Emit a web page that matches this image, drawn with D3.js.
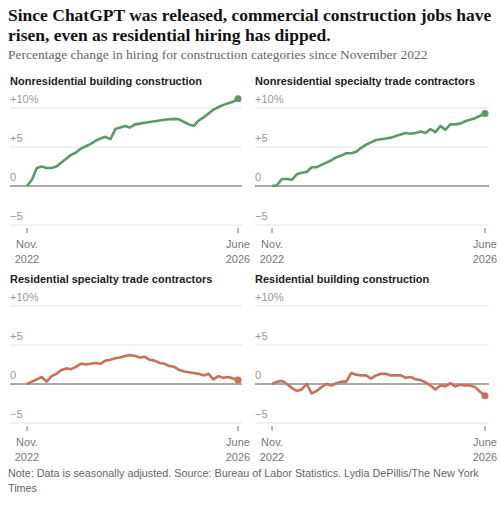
<!DOCTYPE html><html><head><meta charset="utf-8">
<script src="https://cdn.jsdelivr.net/npm/d3@7"></script>
<style>body{margin:0;background:#fff}</style></head><body><svg id="c" width="500" height="509"></svg>
<script>
const titles=["Nonresidential building construction","Nonresidential specialty trade contractors","Residential specialty trade contractors","Residential building construction"];
const nonresBuilding=[0,0.8,2.3,2.5,2.3,2.3,2.5,3,3.5,4,4.3,4.8,5.1,5.4,5.8,6.1,6.3,6.0,7.3,7.5,7.7,7.5,7.9,8.0,8.1,8.2,8.3,8.4,8.5,8.55,8.6,8.55,8.2,7.9,7.7,8.4,8.8,9.3,9.8,10.1,10.4,10.6,10.8,11.2];
const nonresSpecialty=[0,0.1,0.9,0.9,0.8,1.5,1.7,1.8,2.4,2.4,2.7,3.0,3.3,3.7,3.9,4.2,4.2,4.4,4.9,5.3,5.6,5.9,6.0,6.1,6.2,6.4,6.6,6.8,6.7,6.8,7.0,6.8,7.3,6.9,7.7,7.2,7.9,7.9,8.0,8.3,8.5,8.7,9.0,9.3];
const resSpecialty=[0,0.3,0.6,0.9,0.3,1.0,1.3,1.8,2.0,1.9,2.2,2.6,2.5,2.6,2.7,2.6,3.0,3.1,3.3,3.4,3.6,3.7,3.6,3.4,3.5,3.1,3.0,2.7,2.6,2.3,2.2,1.8,1.6,1.5,1.4,1.3,1.1,1.3,0.6,1.0,0.8,0.9,0.7,0.5];
const resBuilding=[0,0.3,0.4,0,-0.5,-0.9,-0.7,0,-1.2,-0.9,-0.4,0,-0.2,0.1,0.3,0.3,1.4,1.2,1.1,1.1,0.7,1.1,1.3,1.3,1.1,1.1,1.1,0.8,0.9,0.6,0.5,0.2,-0.2,-0.7,-0.2,-0.3,0.1,-0.3,-0.1,-0.2,-0.2,-0.4,-1.0,-1.5];
const yTicks=[-5,0,5,10];
const yTickLabels=["\u22125","0","+5","+10%"];
const xLabels=[["Nov.","2022"],["June","2026"]];
const series=[nonresBuilding,nonresSpecialty,resSpecialty,resBuilding];
const colors=["#5a9a68","#5a9a68","#c8705a","#c8705a"];
const svg=d3.select("#c");
svg.append("text").attr("x",8).attr("y",21).attr("font-family","Liberation Serif").attr("font-weight","bold").attr("font-size",17.5).attr("fill","#121212").text("Since ChatGPT was released, commercial construction jobs have");
svg.append("text").attr("x",8).attr("y",41).attr("font-family","Liberation Serif").attr("font-weight","bold").attr("font-size",17.5).attr("fill","#121212").text("risen, even as residential hiring has dipped.");
svg.append("text").attr("x",8).attr("y",59).attr("font-family","Liberation Serif").attr("font-size",13.5).attr("fill","#666").text("Percentage change in hiring for construction categories since November 2022");
const panels=[{x0:10,x1:238,lx:27,top:108},{x0:255,x1:485,lx:272,top:108},{x0:10,x1:238,lx:27,top:306},{x0:255,x1:485,lx:272,top:306}];
panels.forEach((p,i)=>{
  const g=svg.append("g");
  const y=d3.scaleLinear().domain([-5,10]).range([p.top+117,p.top]);
  const x=d3.scaleLinear().domain([0,43]).range([p.lx,p.x1]);
  g.append("text").attr("x",p.x0).attr("y",p.top-23).attr("font-family","Liberation Sans").attr("font-weight","bold").attr("font-size",11).attr("fill","#222").text(titles[i]);
  yTicks.forEach((t,j)=>{
    g.append("line").attr("x1",p.x0).attr("x2",p.x1+4).attr("y1",y(t)).attr("y2",y(t)).attr("stroke",t===0?"#555":"#e4e4e4").attr("stroke-width",1);
    g.append("text").attr("x",p.x0).attr("y",y(t)-5).attr("font-family","Liberation Sans").attr("font-size",11).attr("fill","#999").text(yTickLabels[j]);
  });
  [0,43].forEach((v,k)=>{
    g.append("line").attr("x1",x(v)).attr("x2",x(v)).attr("y1",y(-5)+3).attr("y2",y(-5)+8).attr("stroke","#777");
    xLabels[k].forEach((s,m)=>g.append("text").attr("x",x(v)).attr("y",y(-5)+23+m*15).attr("text-anchor","middle").attr("font-family","Liberation Sans").attr("font-size",11).attr("fill","#777").text(s));
  });
  g.append("path").datum(series[i]).attr("fill","none").attr("stroke",colors[i]).attr("stroke-width",2.6).attr("stroke-linejoin","round")
   .attr("d",d3.line().x((d,k)=>x(k)).y(d=>y(d)));
  const last=series[i].length-1;
  g.append("circle").attr("cx",x(last)).attr("cy",y(series[i][last])).attr("r",3.5).attr("fill",colors[i]);
});
svg.append("text").attr("x",8).attr("y",477).attr("font-family","Liberation Sans").attr("font-size",10.8).attr("fill","#666").text("Note: Data is seasonally adjusted.  Source: Bureau of Labor Statistics.  Lydia DePillis/The New York");
svg.append("text").attr("x",8).attr("y",492).attr("font-family","Liberation Sans").attr("font-size",10.8).attr("fill","#666").text("Times");
</script></body></html>
